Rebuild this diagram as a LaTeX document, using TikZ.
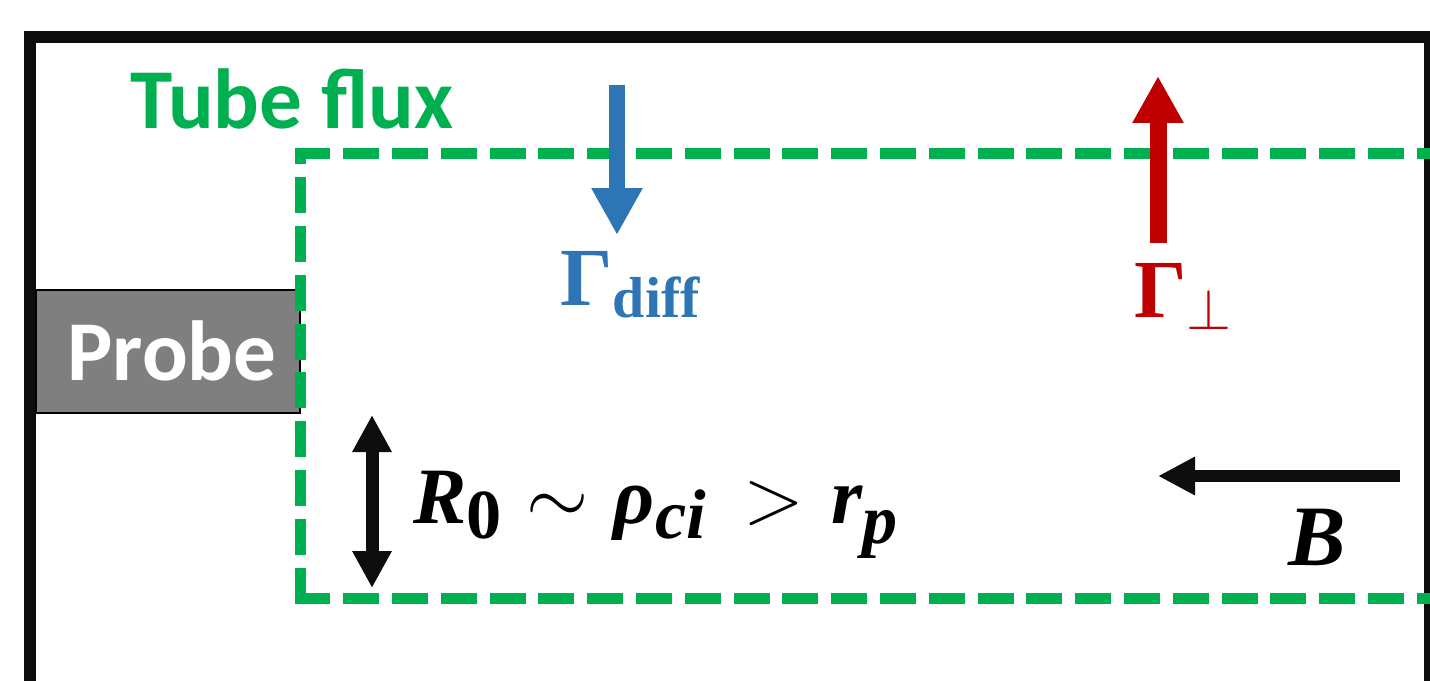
\RequirePackage{fix-cm}
\documentclass[tikz,border=0pt]{standalone}
\usepackage{amsmath}
\usepackage[no-math]{fontspec}
\newfontfamily\calibri{Carlito}
\newfontfamily\timesserif{Liberation Serif}
\newcommand\serbf{\timesserif\bfseries\upshape}
\newcommand\serbi{\timesserif\bfseries\itshape}
\newcommand\lowsub[2][-0.3cm]{\raisebox{#1}{\fontsize{40}{40}\selectfont #2}}
\usetikzlibrary{arrows.meta}

\definecolor{tubegreen}{HTML}{00B050}
\definecolor{diffblue}{HTML}{2E75B6}
\definecolor{perpred}{HTML}{C00000}
\definecolor{probegray}{HTML}{7F7F7F}
\definecolor{framegray}{HTML}{0D0D0D}

\tikzset{
  sanstext/.style={font=\calibri\bfseries\fontsize{48.5}{56}\selectfont, inner sep=0pt},
  mathtext/.style={font=\fontsize{47}{56}\selectfont, inner sep=0pt},
  tubeline/.style={tubegreen, line width=0.22cm, line cap=rect,
    dash pattern=on 0.5cm off 0.476cm},
  bigtip/.style={-{Triangle[width=0.96cm,length=0.94cm]}}
}

\begin{document}
\begin{tikzpicture}[x=0.02cm,y=-0.02cm]

\clip (0,0) rectangle (1430,680);
\fill[white] (0,0) rectangle (1430,680);

% Chamber wall
\draw[framegray, line width=0.24cm] (30,700) -- (30,37) -- (1430,37) -- (1430,700);

% Probe
\node[draw=black, line width=0.04cm, fill=probegray,
  minimum width=5.28cm, minimum height=2.46cm, inner sep=0pt]
  (probe) at (168,351.5) {};
\node[sanstext, white, anchor=base] (probename) at (172,380) {Probe};

% Flux tube
\draw[tubeline] (300,153) -- (1450,153);
\draw[tubeline] (300,598) -- (300,153);
\draw[tubeline] (300,598) -- (1450,598);

\node[sanstext, tubegreen, anchor=base west] (tubename) at (130,128)
{Tube flux};


% Diffusive flux
\coordinate (difftail) at (617,85);
\coordinate (diffhead) at (617,235);
\draw[diffblue, line width=0.32cm, bigtip] (difftail) -- (diffhead);

\node[mathtext, diffblue, anchor=base west] (gdiff) at (560,305)
{$\text{\serbf Γ}_{\text{\serbf diff}}$};


% Perpendicular flux
\coordinate (perptail) at (1158,243);
\coordinate (perphead) at (1158,76);
\draw[perpred, line width=0.34cm, bigtip] (perptail) -- (perphead);

\node[mathtext, perpred, anchor=base west] (gperp) at (1134,317)
{$\text{\serbf Γ}_{\perp}$};


% Tube radius
\coordinate (radtop) at (372,415);
\coordinate (radbot) at (372,588);
\draw[framegray, line width=0.26cm,
  {Triangle[width=0.74cm,length=0.74cm]}-{Triangle[width=0.74cm,length=0.74cm]}]
  (radtop) -- (radbot);

\node[font=\serbi\fontsize{45.5}{52}\selectfont, inner sep=0pt, anchor=base west]
  (radius) at (413,523)
{R\lowsub{\serbf 0}\hspace{0.5cm}$\sim$\hspace{0.5cm}ρ\lowsub{ci}%
\hspace{0.76cm}$>$\hspace{0.54cm}r\lowsub[-0.4cm]{p}};


% Magnetic field
\coordinate (fieldtail) at (1400,476);
\coordinate (fieldhead) at (1158,476);
\draw[framegray, line width=0.24cm, -{Triangle[width=0.72cm,length=0.74cm]}]
  (fieldtail) -- (fieldhead);

\node[font=\serbi\fontsize{49}{56}\selectfont, inner sep=0pt, anchor=base west]
  (bfield) at (1288,565) {B};

\end{tikzpicture}
\end{document}
